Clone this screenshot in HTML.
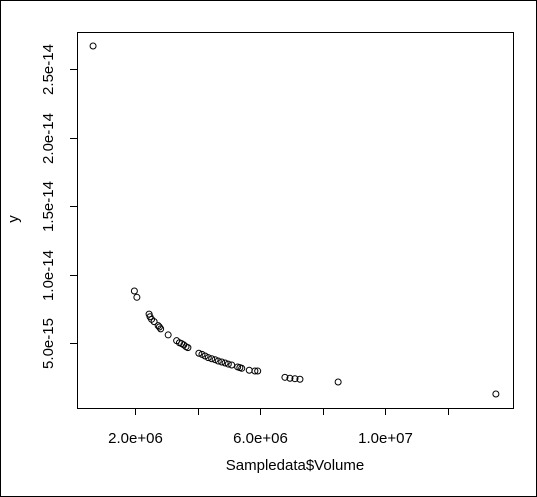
<!DOCTYPE html>
<html><head><meta charset="utf-8"><style>
html,body{margin:0;padding:0;background:#fff}
svg{display:block}
text{font-family:"Liberation Sans",Arial,sans-serif;font-size:15px;fill:#000}
</style></head><body>
<svg id="chart" width="537" height="497" viewBox="0 0 537 497" xmlns="http://www.w3.org/2000/svg">
<rect x="0.5" y="0.5" width="536" height="496" fill="#fff" stroke="#000"/>
<rect x="77.5" y="32.5" width="436" height="376" fill="none" stroke="#000"/>
<g id="xaxis"></g>
<g id="yaxis"></g>
<g id="points"></g>
<text x="295" y="470" text-anchor="middle">Sampledata$Volume</text>
<text transform="translate(18,219) rotate(-90)" text-anchor="middle">y</text>
</svg>
<script>
const xVals = [0.66,1.98,2.06,2.45,2.48,2.53,2.61,2.74,2.78,2.82,3.06,3.33,3.42,3.49,3.56,3.63,3.69,4.04,4.14,4.24,4.34,4.45,4.56,4.66,4.77,4.88,4.98,5.09,5.28,5.35,5.41,5.65,5.83,5.92,6.79,6.95,7.11,7.27,8.49,13.53]; // x 1e6
const yVals = [26.71,8.80,8.34,7.11,6.92,6.73,6.56,6.27,6.17,6.03,5.59,5.17,5.02,4.95,4.86,4.73,4.66,4.25,4.17,4.05,3.93,3.85,3.78,3.68,3.61,3.54,3.46,3.39,3.25,3.20,3.15,3.01,2.95,2.95,2.49,2.42,2.39,2.35,2.15,1.27]; // y 1e-15
const xTicks = [2,4,6,8,10,12];
const xTickLabels = ["2.0e+06","","6.0e+06","","1.0e+07",""];
const yTicks = [5,10,15,20,25];
const yTickLabels = ["5.0e-15","1.0e-14","1.5e-14","2.0e-14","2.5e-14"];

const NS="http://www.w3.org/2000/svg";
function sx(v){return 72.4+v*31.3;}
function sy(v){return 411.4-v*68.4/5;}
function mk(tag,attrs,parent){const e=document.createElementNS(NS,tag);for(const k in attrs)e.setAttribute(k,attrs[k]);parent.appendChild(e);return e;}
const xa=document.getElementById('xaxis'),ya=document.getElementById('yaxis'),pg=document.getElementById('points');
xTicks.forEach((t,i)=>{
  const x=Math.round(sx(t))+0.5;
  const l=mk('line',{x1:x,x2:x,y1:408,y2:415,stroke:'#000'},xa);
  
  
  if(xTickLabels[i]){
    const tx=mk('text',{x:x,y:443,'text-anchor':'middle'},xa);tx.textContent=xTickLabels[i];
    
    
  }
});
yTicks.forEach((t,i)=>{
  const y=Math.round(sy(t))+0.5;
  const l=mk('line',{x1:70,x2:77,y1:y,y2:y,stroke:'#000'},ya);
  
  
  const tx=mk('text',{transform:'translate(53,'+y+') rotate(-90)','text-anchor':'middle'},ya);tx.textContent=yTickLabels[i];
  
  
});
xVals.forEach((v,i)=>{
  const c=mk('circle',{cx:sx(v),cy:sy(yVals[i]),r:3,fill:'none',stroke:'#000','stroke-width':1},pg);
  
  
});
</script>
</body></html>
